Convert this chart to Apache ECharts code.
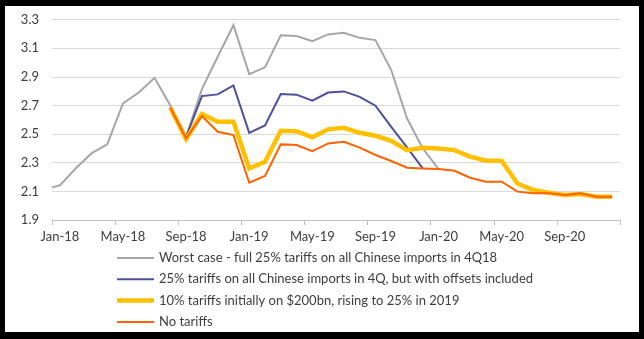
<!DOCTYPE html>
<html>
<head>
<meta charset="utf-8">
<script src="https://cdn.jsdelivr.net/npm/echarts@6/dist/echarts.min.js"></script>
<style>
  html, body { margin: 0; padding: 0; background: #ffffff; }
  #chart { width: 644px; height: 339px; }
</style>
</head>
<body>
<div id="chart"></div>
<script>
// Categories (monthly, Jan-18 .. Dec-20)
const categories = [
  'Jan-18','Feb-18','Mar-18','Apr-18','May-18','Jun-18','Jul-18','Aug-18','Sep-18','Oct-18','Nov-18','Dec-18',
  'Jan-19','Feb-19','Mar-19','Apr-19','May-19','Jun-19','Jul-19','Aug-19','Sep-19','Oct-19','Nov-19','Dec-19',
  'Jan-20','Feb-20','Mar-20','Apr-20','May-20','Jun-20','Jul-20','Aug-20','Sep-20','Oct-20','Nov-20','Dec-20'
];

// Legend names
const seriesNames = [
  'Worst case - full 25% tariffs on all Chinese imports in 4Q18',
  '25% tariffs on all Chinese imports in 4Q, but with offsets included',
  '10% tariffs initially on $200bn, rising to 25% in 2019',
  'No tariffs'
];

// Worst case: an extra opening value sits at the start of Jan-18
const worstStart = 2.128;
const worstCase = [
  2.142, 2.26, 2.365, 2.428, 2.714, 2.79, 2.893, 2.70, 2.481, 2.814, 3.04, 3.26,
  2.919, 2.966, 3.19, 3.184, 3.149, 3.196, 3.207, 3.172, 3.156, 2.947, 2.61, 2.40,
  2.256, null, null, null, null, null, null, null, null, null, null, null
];
const withOffsets = [
  null, null, null, null, null, null, null, null, 2.48, 2.765, 2.777, 2.84,
  2.509, 2.56, 2.779, 2.775, 2.733, 2.79, 2.798, 2.76, 2.698, 2.55, 2.407, 2.26,
  null, null, null, null, null, null, null, null, null, null, null, null
];
const tenPct = [
  null, null, null, null, null, null, null, 2.684, 2.465, 2.64, 2.586, 2.586,
  2.26, 2.307, 2.523, 2.52, 2.477, 2.533, 2.544, 2.509, 2.488, 2.453, 2.388, 2.405,
  2.40, 2.388, 2.342, 2.314, 2.314, 2.155, 2.109, 2.09, 2.074, 2.081, 2.063, 2.063
];
const noTariffs = [
  null, null, null, null, null, null, null, 2.684, 2.47, 2.626, 2.516, 2.493,
  2.16, 2.207, 2.428, 2.424, 2.381, 2.435, 2.446, 2.405, 2.354, 2.312, 2.265, 2.26,
  2.256, 2.244, 2.195, 2.167, 2.167, 2.098, 2.086, 2.086, 2.074, 2.086, 2.063, 2.063
];

// Y axis range
const yMin = 1.9, yMax = 3.3, yStep = 0.2;

function toPoints(arr) {
  const pts = [];
  arr.forEach((v, i) => { if (v !== null) pts.push([i + 0.5, +(v - yMin).toFixed(4)]); });
  return pts;
}

const worstPts = [[0, +(worstStart - yMin).toFixed(4)]].concat(toPoints(worstCase));

const FONT = 'Lato';
const TXT = '#3d3d3d';
const colors = ['#a6a6a6', '#4f4f9c', '#ffc000', '#ff6200'];
const widths = [2, 2, 4.5, 2];

const chart = echarts.init(document.getElementById('chart'), null, { renderer: 'canvas' });

function lineSeries(idx, data) {
  return {
    name: seriesNames[idx],
    type: 'line',
    xAxisIndex: 1,
    yAxisIndex: 0,
    data: data,
    symbol: 'none',
    showSymbol: false,
    smooth: false,
    connectNulls: false,
    lineStyle: { color: colors[idx], width: widths[idx], join: 'miter' },
    itemStyle: { color: colors[idx] },
    emphasis: { disabled: true },
    animation: false
  };
}

chart.setOption({
  animation: false,
  backgroundColor: '#ffffff',
  grid: { left: 52, right: 24, top: 19.5, bottom: 119, containLabel: false },
  xAxis: [
    {
      type: 'category',
      data: categories,
      boundaryGap: true,
      axisLine: { show: true, lineStyle: { color: '#bfbfbf', width: 1 } },
      axisTick: { show: true, interval: 3, length: 5, lineStyle: { color: '#bfbfbf' } },
      axisLabel: { interval: 3, color: TXT, fontFamily: FONT, fontSize: 13, margin: 10 },
      splitLine: { show: false }
    },
    {
      type: 'value',
      min: 0,
      max: categories.length,
      show: false,
      splitLine: { show: false }
    }
  ],
  yAxis: {
    type: 'value',
    min: 0,
    max: +(yMax - yMin).toFixed(4),
    interval: yStep,
    axisLine: { show: false },
    axisTick: { show: false },
    axisLabel: {
      color: TXT, fontFamily: FONT, fontSize: 13, margin: 13,
      formatter: v => (v + yMin).toFixed(1)
    },
    splitLine: { show: true, lineStyle: { color: '#d9d9d9', width: 1 } }
  },
  legend: {
    orient: 'vertical',
    left: 112,
    top: 246.5,
    itemWidth: 37,
    itemHeight: 14,
    itemGap: 8.3,
    selectedMode: false,
    symbolKeepAspect: true,
    textStyle: { color: TXT, fontFamily: FONT, fontSize: 13 },
    data: seriesNames.map((n, i) => ({
      name: n,
      icon: 'path://M0 0H37V' + widths[i] + 'H0Z',
      itemStyle: { color: colors[i] }
    }))
  },
  graphic: [
    { type: 'rect', left: 0, top: 0, shape: { width: 644, height: 6 }, style: { fill: '#000' }, z: 100 },
    { type: 'rect', left: 0, top: 332, shape: { width: 644, height: 7 }, style: { fill: '#000' }, z: 100 },
    { type: 'rect', left: 0, top: 0, shape: { width: 5, height: 339 }, style: { fill: '#000' }, z: 100 },
    { type: 'rect', left: 639, top: 0, shape: { width: 5, height: 339 }, style: { fill: '#000' }, z: 100 }
  ],
  series: [
    lineSeries(0, worstPts),
    lineSeries(1, toPoints(withOffsets)),
    lineSeries(2, toPoints(tenPct)),
    lineSeries(3, toPoints(noTariffs))
  ]
});
</script>
</body>
</html>
